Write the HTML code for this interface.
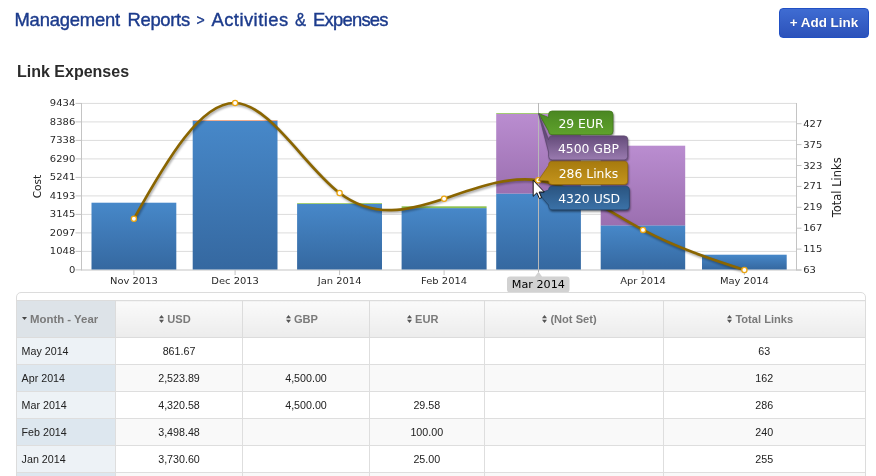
<!DOCTYPE html>
<html><head><meta charset="utf-8"><title>Management Reports - Activities &amp; Expenses</title>
<style>
html,body{margin:0;padding:0;background:#fff;}
body{width:876px;height:476px;overflow:hidden;position:relative;font-family:"Liberation Sans",sans-serif;}
#title{position:absolute;left:16px;top:7.6px;font-size:18.4px;line-height:24px;color:#1c3b8c;white-space:nowrap;height:24px;width:400px}
#title span{position:absolute;top:0;-webkit-text-stroke:0.4px #1c3b8c}
#btn{position:absolute;left:779px;top:8px;width:88px;height:28px;border:1px solid #2150c4;border-radius:4px;
 background:linear-gradient(#3f6cd2,#2c52ba);color:#fff;font-weight:bold;font-size:13.4px;line-height:28px;text-align:center;white-space:nowrap;text-shadow:0 0 1px rgba(0,0,40,.3)}
#h2{position:absolute;left:17px;top:61.6px;font-size:16px;line-height:20px;font-weight:bold;color:#2b2b2b;white-space:nowrap}
#chart{position:absolute;left:0;top:0}
#chart text{font-family:"DejaVu Sans","Liberation Sans",sans-serif;}
#tw{position:absolute;left:16px;top:292px;width:848px;height:200px;border:1px solid #dcdcdc;border-radius:5px 5px 0 0;background:#fff}
table{position:absolute;left:0px;top:7px;border-collapse:collapse;table-layout:fixed;width:848px;font-size:10.7px;color:#222}
th{height:35.5px;padding:0;border:1px solid #dcdcdc;border-left:none;background:linear-gradient(#fafafa,#ececec);color:#7a7a7a;font-weight:bold;font-size:11.1px;text-align:center;white-space:nowrap;padding-right:8px}
td{height:25px;padding:1px 0 0 0;border:1px solid #dedede;border-left:none;text-align:center;white-space:nowrap}
th:last-child,td:last-child{border-right:none}
th.s{background:#dde3e8;text-align:left;padding-left:5px;font-size:11.4px}
td.f{text-align:left;padding-left:4.6px;background:#edf2f6}
tr.e td{background:#f9f9f9}
tr.e td.f{background:#dde7ef}
.ic{display:inline-block;vertical-align:middle;margin-right:3px;position:relative;top:-1px}
</style></head><body>
<div id="title"><span style="left:-1.5px;letter-spacing:-0.2px">Management</span> <span style="left:111.5px;letter-spacing:-0.3px">Reports</span> <span style="left:180.5px;font-size:14px;top:0.5px">&gt;</span> <span style="left:195.5px;letter-spacing:0.45px">Activities</span> <span style="left:279px;display:inline-block;transform:scaleX(0.9);transform-origin:0 0">&amp;</span> <span style="left:297px;letter-spacing:-0.75px">Expenses</span></div>
<div id="btn">+ Add Link</div>
<div id="h2">Link Expenses</div>

<svg id="chart" width="876" height="300" viewBox="0 0 876 300">
<defs>
<linearGradient id="gb" x1="0" y1="0" x2="0" y2="1"><stop offset="0" stop-color="#4788c9"/><stop offset="1" stop-color="#3568a0"/></linearGradient>
<linearGradient id="gp" x1="0" y1="0" x2="0" y2="1"><stop offset="0" stop-color="#ba8dd0"/><stop offset="1" stop-color="#9b6fb0"/></linearGradient>
<filter id="sh" x="-5%" y="-20%" width="110%" height="140%"><feGaussianBlur stdDeviation="1.2"/></filter>
<filter id="sh2" x="-10%" y="-30%" width="120%" height="160%"><feGaussianBlur stdDeviation="0.9"/></filter>
</defs>
<line x1="75.5" x2="81.5" y1="269.9" y2="269.9" stroke="#c4c4c4" stroke-width="1"/>
<line x1="81.5" x2="796.5" y1="251.39999999999998" y2="251.39999999999998" stroke="#dcdcdc" stroke-width="1"/>
<line x1="75.5" x2="81.5" y1="251.39999999999998" y2="251.39999999999998" stroke="#c4c4c4" stroke-width="1"/>
<line x1="81.5" x2="796.5" y1="232.89999999999998" y2="232.89999999999998" stroke="#dcdcdc" stroke-width="1"/>
<line x1="75.5" x2="81.5" y1="232.89999999999998" y2="232.89999999999998" stroke="#c4c4c4" stroke-width="1"/>
<line x1="81.5" x2="796.5" y1="214.39999999999998" y2="214.39999999999998" stroke="#dcdcdc" stroke-width="1"/>
<line x1="75.5" x2="81.5" y1="214.39999999999998" y2="214.39999999999998" stroke="#c4c4c4" stroke-width="1"/>
<line x1="81.5" x2="796.5" y1="195.89999999999998" y2="195.89999999999998" stroke="#dcdcdc" stroke-width="1"/>
<line x1="75.5" x2="81.5" y1="195.89999999999998" y2="195.89999999999998" stroke="#c4c4c4" stroke-width="1"/>
<line x1="81.5" x2="796.5" y1="177.39999999999998" y2="177.39999999999998" stroke="#dcdcdc" stroke-width="1"/>
<line x1="75.5" x2="81.5" y1="177.39999999999998" y2="177.39999999999998" stroke="#c4c4c4" stroke-width="1"/>
<line x1="81.5" x2="796.5" y1="158.89999999999998" y2="158.89999999999998" stroke="#dcdcdc" stroke-width="1"/>
<line x1="75.5" x2="81.5" y1="158.89999999999998" y2="158.89999999999998" stroke="#c4c4c4" stroke-width="1"/>
<line x1="81.5" x2="796.5" y1="140.39999999999998" y2="140.39999999999998" stroke="#dcdcdc" stroke-width="1"/>
<line x1="75.5" x2="81.5" y1="140.39999999999998" y2="140.39999999999998" stroke="#c4c4c4" stroke-width="1"/>
<line x1="81.5" x2="796.5" y1="121.89999999999998" y2="121.89999999999998" stroke="#dcdcdc" stroke-width="1"/>
<line x1="75.5" x2="81.5" y1="121.89999999999998" y2="121.89999999999998" stroke="#c4c4c4" stroke-width="1"/>
<line x1="81.5" x2="796.5" y1="103.39999999999998" y2="103.39999999999998" stroke="#dcdcdc" stroke-width="1"/>
<line x1="75.5" x2="81.5" y1="103.39999999999998" y2="103.39999999999998" stroke="#c4c4c4" stroke-width="1"/>
<line x1="81.5" x2="81.5" y1="103" y2="270.5" stroke="#c4c4c4" stroke-width="1"/>
<line x1="796.5" x2="796.5" y1="103" y2="270.5" stroke="#c4c4c4" stroke-width="1"/>
<line x1="81.5" x2="801.5" y1="270" y2="270" stroke="#c4c4c4" stroke-width="1"/>
<text transform="translate(75.3,272.9) scale(1,0.88)" font-size="10" fill="#2a2a2a" text-anchor="end">0</text>
<text transform="translate(75.3,254.4) scale(1,0.88)" font-size="10" fill="#2a2a2a" text-anchor="end">1048</text>
<text transform="translate(75.3,235.9) scale(1,0.88)" font-size="10" fill="#2a2a2a" text-anchor="end">2097</text>
<text transform="translate(75.3,217.4) scale(1,0.88)" font-size="10" fill="#2a2a2a" text-anchor="end">3145</text>
<text transform="translate(75.3,198.9) scale(1,0.88)" font-size="10" fill="#2a2a2a" text-anchor="end">4193</text>
<text transform="translate(75.3,180.4) scale(1,0.88)" font-size="10" fill="#2a2a2a" text-anchor="end">5241</text>
<text transform="translate(75.3,161.9) scale(1,0.88)" font-size="10" fill="#2a2a2a" text-anchor="end">6290</text>
<text transform="translate(75.3,143.4) scale(1,0.88)" font-size="10" fill="#2a2a2a" text-anchor="end">7338</text>
<text transform="translate(75.3,124.9) scale(1,0.88)" font-size="10" fill="#2a2a2a" text-anchor="end">8386</text>
<text transform="translate(75.3,106.4) scale(1,0.88)" font-size="10" fill="#2a2a2a" text-anchor="end">9434</text>
<line x1="796.5" x2="801.5" y1="270.0" y2="270.0" stroke="#c4c4c4" stroke-width="1"/>
<text transform="translate(803.2,273.0) scale(1,0.88)" font-size="10" fill="#2a2a2a">63</text>
<line x1="796.5" x2="801.5" y1="249.1" y2="249.1" stroke="#c4c4c4" stroke-width="1"/>
<text transform="translate(803.2,252.1) scale(1,0.88)" font-size="10" fill="#2a2a2a">115</text>
<line x1="796.5" x2="801.5" y1="228.2" y2="228.2" stroke="#c4c4c4" stroke-width="1"/>
<text transform="translate(803.2,231.2) scale(1,0.88)" font-size="10" fill="#2a2a2a">167</text>
<line x1="796.5" x2="801.5" y1="207.3" y2="207.3" stroke="#c4c4c4" stroke-width="1"/>
<text transform="translate(803.2,210.3) scale(1,0.88)" font-size="10" fill="#2a2a2a">219</text>
<line x1="796.5" x2="801.5" y1="186.4" y2="186.4" stroke="#c4c4c4" stroke-width="1"/>
<text transform="translate(803.2,189.4) scale(1,0.88)" font-size="10" fill="#2a2a2a">271</text>
<line x1="796.5" x2="801.5" y1="165.5" y2="165.5" stroke="#c4c4c4" stroke-width="1"/>
<text transform="translate(803.2,168.5) scale(1,0.88)" font-size="10" fill="#2a2a2a">323</text>
<line x1="796.5" x2="801.5" y1="144.6" y2="144.6" stroke="#c4c4c4" stroke-width="1"/>
<text transform="translate(803.2,147.6) scale(1,0.88)" font-size="10" fill="#2a2a2a">375</text>
<line x1="796.5" x2="801.5" y1="123.7" y2="123.7" stroke="#c4c4c4" stroke-width="1"/>
<text transform="translate(803.2,126.7) scale(1,0.88)" font-size="10" fill="#2a2a2a">427</text>
<text transform="translate(40.5,186.5) rotate(-90)" font-size="10.6" fill="#222" text-anchor="middle">Cost</text>
<text transform="translate(840.5,187.3) rotate(-90)" font-size="11.5" fill="#222" text-anchor="middle">Total Links</text>
<rect x="91.5" y="202.7" width="84.8" height="66.8" fill="url(#gb)"/>
<rect x="192.7" y="120.8" width="84.8" height="148.7" fill="url(#gb)"/>
<rect x="192.7" y="120.0" width="84.8" height="0.9" fill="#f3a683"/>
<rect x="297.1" y="204.0" width="84.9" height="65.5" fill="url(#gb)"/>
<rect x="297.1" y="203.2" width="84.9" height="0.8" fill="#8cc152"/>
<rect x="401.6" y="208.1" width="85.0" height="61.4" fill="url(#gb)"/>
<rect x="401.6" y="206.3" width="85.0" height="1.8" fill="#8cc152"/>
<rect x="496.2" y="193.5" width="84.7" height="76.0" fill="url(#gb)"/>
<rect x="496.2" y="113.9" width="84.7" height="79.7" fill="url(#gp)"/>
<rect x="496.2" y="113.1" width="84.7" height="0.8" fill="#8cc152"/>
<rect x="600.7" y="225.3" width="84.5" height="44.2" fill="url(#gb)"/>
<rect x="600.7" y="145.7" width="84.5" height="79.7" fill="url(#gp)"/>
<rect x="702.0" y="254.7" width="84.7" height="14.8" fill="url(#gb)"/>
<line x1="133.9" x2="133.9" y1="270" y2="275" stroke="#c4c4c4" stroke-width="1"/>
<text transform="translate(133.9,284.2) scale(1,0.9)" font-size="9.95" fill="#2a2a2a" text-anchor="middle">Nov 2013</text>
<line x1="235.1" x2="235.1" y1="270" y2="275" stroke="#c4c4c4" stroke-width="1"/>
<text transform="translate(235.1,284.2) scale(1,0.9)" font-size="9.95" fill="#2a2a2a" text-anchor="middle">Dec 2013</text>
<line x1="339.6" x2="339.6" y1="270" y2="275" stroke="#c4c4c4" stroke-width="1"/>
<text transform="translate(339.6,284.2) scale(1,0.9)" font-size="9.95" fill="#2a2a2a" text-anchor="middle">Jan 2014</text>
<line x1="444.1" x2="444.1" y1="270" y2="275" stroke="#c4c4c4" stroke-width="1"/>
<text transform="translate(444.1,284.2) scale(1,0.9)" font-size="9.95" fill="#2a2a2a" text-anchor="middle">Feb 2014</text>
<line x1="643.0" x2="643.0" y1="270" y2="275" stroke="#c4c4c4" stroke-width="1"/>
<text transform="translate(643.0,284.2) scale(1,0.9)" font-size="9.95" fill="#2a2a2a" text-anchor="middle">Apr 2014</text>
<line x1="744.4" x2="744.4" y1="270" y2="275" stroke="#c4c4c4" stroke-width="1"/>
<text transform="translate(744.4,284.2) scale(1,0.9)" font-size="9.95" fill="#2a2a2a" text-anchor="middle">May 2014</text>
<line x1="538.5" x2="538.5" y1="103" y2="272" stroke="#b8b8b8" stroke-width="1"/>
<path d="M133.9,218.8 C167.6,158.1 201.4,101.9 235.1,103.0 C269.9,104.2 304.7,166.5 339.6,193.0 C374.4,219.6 409.2,210.3 444.1,198.7 C475.5,188.2 506.9,175.8 538.3,180.3 C573.2,185.3 608.1,211.3 643.0,229.9 C676.8,247.9 710.6,259.0 744.4,270.0" fill="none" stroke="#000" stroke-opacity="0.35" stroke-width="2.6" transform="translate(1,1.6)" filter="url(#sh)"/>
<path d="M133.9,218.8 C167.6,158.1 201.4,101.9 235.1,103.0 C269.9,104.2 304.7,166.5 339.6,193.0 C374.4,219.6 409.2,210.3 444.1,198.7 C475.5,188.2 506.9,175.8 538.3,180.3 C573.2,185.3 608.1,211.3 643.0,229.9 C676.8,247.9 710.6,259.0 744.4,270.0" fill="none" stroke="#8a6500" stroke-width="2.7" stroke-linecap="round"/>
<circle cx="133.9" cy="218.8" r="2.6" fill="#fff" stroke="#eaa512" stroke-width="1.3"/>
<circle cx="235.1" cy="103.0" r="2.6" fill="#fff" stroke="#eaa512" stroke-width="1.3"/>
<circle cx="339.6" cy="193.0" r="2.6" fill="#fff" stroke="#eaa512" stroke-width="1.3"/>
<circle cx="444.1" cy="198.7" r="2.6" fill="#fff" stroke="#eaa512" stroke-width="1.3"/>
<circle cx="538.3" cy="180.3" r="2.6" fill="#fff" stroke="#eaa512" stroke-width="1.3"/>
<circle cx="643.0" cy="229.9" r="2.6" fill="#fff" stroke="#eaa512" stroke-width="1.3"/>
<circle cx="744.4" cy="270.0" r="2.6" fill="#fff" stroke="#eaa512" stroke-width="1.3"/>
<path d="M538.5,271.8 L542,276.5 L566.5,276.5 Q569.5,276.5 569.5,279.5 L569.5,289.5 Q569.5,292.5 566.5,292.5 L510,292.5 Q507,292.5 507,289.5 L507,279.5 Q507,276.5 510,276.5 L535,276.5 Z" fill="#d2d2d2"/>
<text x="538.4" y="288.3" font-size="11.2" fill="#000" text-anchor="middle">Mar 2014</text>
<linearGradient id="bg" gradientUnits="userSpaceOnUse" x1="0" y1="111.0" x2="0" y2="134.7"><stop offset="0" stop-color="#4a8722"/><stop offset="1" stop-color="#5fa22c"/></linearGradient>
<path d="M552.1,111.0 L609.5,111.0 Q613.0,111.0 613.0,114.5 L613.0,131.2 Q613.0,134.7 609.5,134.7 L552.1,134.7 Q548.6,134.7 548.6,131.2 L548.6,131 L538.6,113.4 L548.6,117.5 L548.6,114.5 Q548.6,111.0 552.1,111.0 Z" fill="#000" fill-opacity="0.55" transform="translate(0.8,1.6)" filter="url(#sh2)"/>
<path d="M552.1,111.0 L609.5,111.0 Q613.0,111.0 613.0,114.5 L613.0,131.2 Q613.0,134.7 609.5,134.7 L552.1,134.7 Q548.6,134.7 548.6,131.2 L548.6,131 L538.6,113.4 L548.6,117.5 L548.6,114.5 Q548.6,111.0 552.1,111.0 Z" fill="url(#bg)" stroke="#427a1c" stroke-width="0.8"/>
<text x="581.0" y="127.5" font-size="12.4" fill="#fff" text-anchor="middle">29 EUR</text>
<linearGradient id="bp" gradientUnits="userSpaceOnUse" x1="0" y1="135.9" x2="0" y2="159.9"><stop offset="0" stop-color="#644b79"/><stop offset="1" stop-color="#9a7bb0"/></linearGradient>
<path d="M552.1,135.9 L624.2,135.9 Q627.7,135.9 627.7,139.4 L627.7,156.4 Q627.7,159.9 624.2,159.9 L552.1,159.9 Q548.6,159.9 548.6,156.4 L548.6,152 L538.6,113.6 L548.6,140 L548.6,139.4 Q548.6,135.9 552.1,135.9 Z" fill="#000" fill-opacity="0.55" transform="translate(0.8,1.6)" filter="url(#sh2)"/>
<path d="M552.1,135.9 L624.2,135.9 Q627.7,135.9 627.7,139.4 L627.7,156.4 Q627.7,159.9 624.2,159.9 L552.1,159.9 Q548.6,159.9 548.6,156.4 L548.6,152 L538.6,113.6 L548.6,140 L548.6,139.4 Q548.6,135.9 552.1,135.9 Z" fill="url(#bp)" stroke="#5d4670" stroke-width="0.8"/>
<text x="588.4" y="152.6" font-size="12.4" fill="#fff" text-anchor="middle">4500 GBP</text>
<linearGradient id="bo" gradientUnits="userSpaceOnUse" x1="0" y1="161.2" x2="0" y2="184.5"><stop offset="0" stop-color="#a67a0e"/><stop offset="1" stop-color="#c4941c"/></linearGradient>
<path d="M552.1,161.2 L624.2,161.2 Q627.7,161.2 627.7,164.7 L627.7,181.0 Q627.7,184.5 624.2,184.5 L552.1,184.5 Q548.6,184.5 548.6,181.0 L548.6,181.0 L538.4,180.3 L548.6,165.5 L548.6,164.7 Q548.6,161.2 552.1,161.2 Z" fill="#000" fill-opacity="0.55" transform="translate(0.8,1.6)" filter="url(#sh2)"/>
<path d="M552.1,161.2 L624.2,161.2 Q627.7,161.2 627.7,164.7 L627.7,181.0 Q627.7,184.5 624.2,184.5 L552.1,184.5 Q548.6,184.5 548.6,181.0 L548.6,181.0 L538.4,180.3 L548.6,165.5 L548.6,164.7 Q548.6,161.2 552.1,161.2 Z" fill="url(#bo)" stroke="#94690a" stroke-width="0.8"/>
<text x="588.4" y="177.5" font-size="12.4" fill="#fff" text-anchor="middle">286 Links</text>
<linearGradient id="bb" gradientUnits="userSpaceOnUse" x1="0" y1="186.2" x2="0" y2="209.8"><stop offset="0" stop-color="#2a5480"/><stop offset="1" stop-color="#3b72a8"/></linearGradient>
<path d="M552.1,186.2 L625.9,186.2 Q629.4,186.2 629.4,189.7 L629.4,206.3 Q629.4,209.8 625.9,209.8 L552.1,209.8 Q548.6,209.8 548.6,206.3 L548.6,205 L538.6,193.6 L548.6,190 L548.6,189.7 Q548.6,186.2 552.1,186.2 Z" fill="#000" fill-opacity="0.55" transform="translate(0.8,1.6)" filter="url(#sh2)"/>
<path d="M552.1,186.2 L625.9,186.2 Q629.4,186.2 629.4,189.7 L629.4,206.3 Q629.4,209.8 625.9,209.8 L552.1,209.8 Q548.6,209.8 548.6,206.3 L548.6,205 L538.6,193.6 L548.6,190 L548.6,189.7 Q548.6,186.2 552.1,186.2 Z" fill="url(#bb)" stroke="#244a72" stroke-width="0.8"/>
<text x="589.2" y="202.7" font-size="12.4" fill="#fff" text-anchor="middle">4320 USD</text>
<path d="M533.2,180.3 L533.2,196.3 L536.9,192.8 L539.4,198.6 L541.6,197.6 L539.1,192 L544.3,192 Z" fill="#fff" stroke="#000" stroke-width="0.9" stroke-linejoin="round"/>
</svg>
<div id="tw"><table><colgroup><col style="width:98.5px"><col style="width:127px"><col style="width:127px"><col style="width:114.5px"><col style="width:179px"><col style="width:202px"></colgroup>
<tr><th class="s"><svg class="ic" width="5" height="3" viewBox="0 0 5 3"><path d="M0,0 L5,0 L2.5,3 Z" fill="#444"/></svg>Month - Year</th><th><svg class="ic" width="5" height="8" viewBox="0 0 5 8"><path d="M0,3.2 L2.5,0 L5,3.2 Z M0,4.8 L2.5,8 L5,4.8 Z" fill="#555"/></svg>USD</th><th><svg class="ic" width="5" height="8" viewBox="0 0 5 8"><path d="M0,3.2 L2.5,0 L5,3.2 Z M0,4.8 L2.5,8 L5,4.8 Z" fill="#555"/></svg>GBP</th><th><svg class="ic" width="5" height="8" viewBox="0 0 5 8"><path d="M0,3.2 L2.5,0 L5,3.2 Z M0,4.8 L2.5,8 L5,4.8 Z" fill="#555"/></svg>EUR</th><th><svg class="ic" width="5" height="8" viewBox="0 0 5 8"><path d="M0,3.2 L2.5,0 L5,3.2 Z M0,4.8 L2.5,8 L5,4.8 Z" fill="#555"/></svg>(Not Set)</th><th><svg class="ic" width="5" height="8" viewBox="0 0 5 8"><path d="M0,3.2 L2.5,0 L5,3.2 Z M0,4.8 L2.5,8 L5,4.8 Z" fill="#555"/></svg>Total Links</th></tr>
<tr><td class="f">May 2014</td><td>861.67</td><td></td><td></td><td></td><td>63</td></tr>
<tr class="e"><td class="f">Apr 2014</td><td>2,523.89</td><td>4,500.00</td><td></td><td></td><td>162</td></tr>
<tr><td class="f">Mar 2014</td><td>4,320.58</td><td>4,500.00</td><td>29.58</td><td></td><td>286</td></tr>
<tr class="e"><td class="f">Feb 2014</td><td>3,498.48</td><td></td><td>100.00</td><td></td><td>240</td></tr>
<tr><td class="f">Jan 2014</td><td>3,730.60</td><td></td><td>25.00</td><td></td><td>255</td></tr>
<tr class="e"><td class="f">Dec 2013</td><td>8,400.00</td><td></td><td></td><td>30.00</td><td>478</td></tr>
</table></div>
</body></html>
